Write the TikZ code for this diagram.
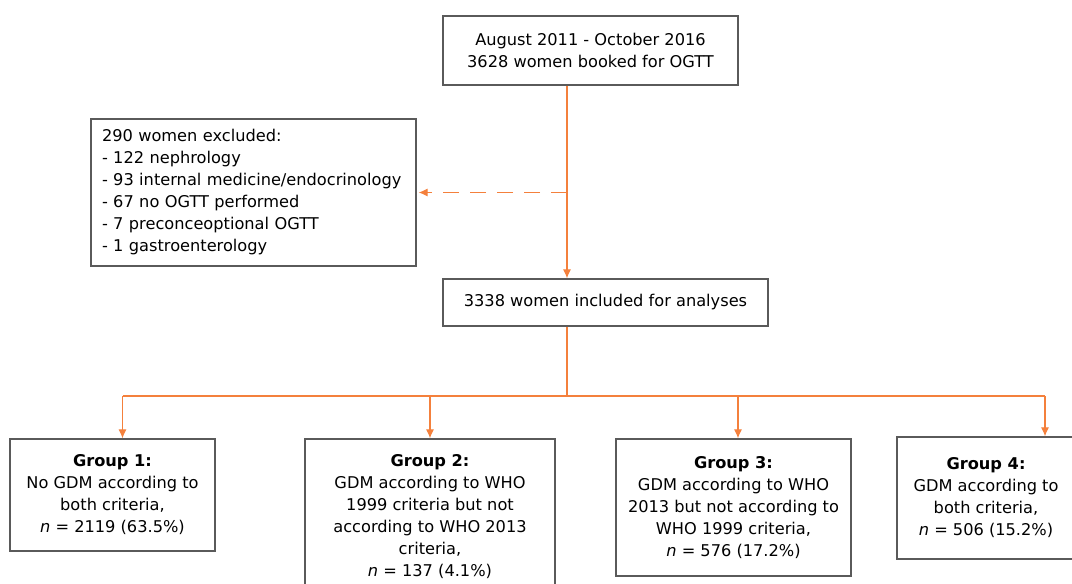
\documentclass[tikz,border=0pt]{standalone}
\usepackage{fontspec}
\setmainfont{DejaVu Sans}
\usetikzlibrary{arrows.meta,calc}
\definecolor{flow}{RGB}{244,128,60}
\definecolor{edge}{RGB}{90,90,90}
\tikzset{
  box/.style={draw=edge, line width=1.2pt, fill=white, inner sep=0pt, align=center,
    font=\fontsize{16.2}{22}\selectfont},
  line/.style={draw=flow, line width=1.1pt},
  arr/.style={line, -{Latex[length=9pt,width=8pt]}},
}
\begin{document}
\begin{tikzpicture}[x=1pt,y=-1pt]
\useasboundingbox (0,0) rectangle (1072,584);
\clip (0,0) rectangle (1072,584);
\node[box, minimum width=295pt, minimum height=69pt] (top) at (590.5,50.5)
  {August 2011 - October 2016\\3628 women booked for OGTT};
\node[box, minimum height=147pt, text width=303pt, inner xsep=11pt, align=left] (excl) at (253.5,192.5)
  {290 women excluded:\\- 122 nephrology\\- 93 internal medicine/endocrinology\\- 67 no OGTT performed\\- 7 preconceoptional OGTT\\- 1 gastroenterology};
\node[box, minimum width=325pt, minimum height=47pt] (incl) at (605.5,302.5)
  {3338 women included for analyses};
\node[box, minimum width=205pt, minimum height=112pt] (g1) at (112.5,495)
  {\textbf{Group 1:}\\No GDM according to\\both criteria,\\\textit{n} = 2119 (63.5\%)};
\node[box, minimum width=250pt, minimum height=156pt] (g2) at (430,517)
  {\textbf{Group 2:}\\GDM according to WHO\\1999 criteria but not\\according to WHO 2013\\criteria,\\\textit{n} = 137 (4.1\%)};
\node[box, minimum width=235pt, minimum height=137pt] (g3) at (733.5,507.5)
  {\textbf{Group 3:}\\GDM according to WHO\\2013 but not according to\\WHO 1999 criteria,\\\textit{n} = 576 (17.2\%)};
\node[box, minimum width=190pt, minimum height=122pt] (g4) at (992,498)
  {};
\node[box, draw=none, fill=none] (g4t) at (986,498)
  {\textbf{Group 4:}\\GDM according to\\both criteria,\\\textit{n} = 506 (15.2\%)};
\coordinate (spine) at (567,0);
\coordinate (bus) at (567,396);
\coordinate (a1) at (122.5,396);
\coordinate (a2) at (430,396);
\coordinate (a3) at (738,396);
\coordinate (a4) at (1045,396);
\draw[arr] (top.south -| spine) -- (incl.north -| spine);
\draw[arr, dash pattern=on 16pt off 11pt, shorten >=2pt] (spine |- excl.east) -- (excl.east);
\draw[line] (incl.south -| spine) -- (bus);
\draw[line] (a1) -- (a4);
\draw[arr] (a1) -- (g1.north -| a1);
\draw[arr] (a2) -- (g2.north -| a2);
\draw[arr] (a3) -- (g3.north -| a3);
\draw[arr] (a4) -- (g4.north -| a4);
\end{tikzpicture}
\end{document}
